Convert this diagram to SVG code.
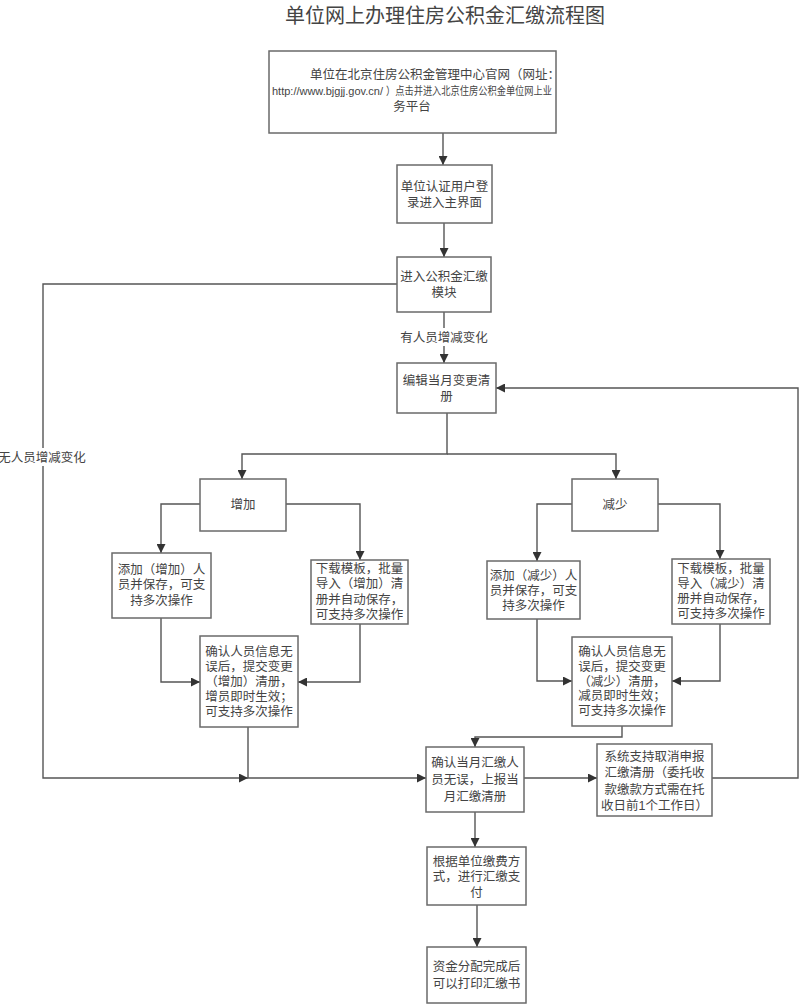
<svg xmlns="http://www.w3.org/2000/svg" width="800" height="1008" viewBox="0 0 800 1008">
<style>
.box{fill:#fff;stroke:#6a6a6a;stroke-width:1.5}
.t{font-family:"Liberation Sans","Noto Sans CJK SC",sans-serif;font-size:12.5px;fill:#444;text-anchor:middle}
.u{font-family:"Liberation Sans",sans-serif;font-size:11px;fill:#444;text-anchor:start}
.s{font-size:11px;text-anchor:start}
.c{fill:none;stroke:#555;stroke-width:1.4}
.title{font-family:"Liberation Sans","Noto Sans CJK SC",sans-serif;font-size:20px;fill:#444;text-anchor:middle}
</style>
<defs>
<marker id="ah" viewBox="0 0 10 10" refX="10" refY="5" markerWidth="9" markerHeight="9" markerUnits="userSpaceOnUse" orient="auto">
<path d="M0,0 L10,5 L0,10 z" fill="#333"/>
</marker>
</defs>
<rect width="800" height="1008" fill="#fff"/>
<text class="title" x="445" y="23">单位网上办理住房公积金汇缴流程图</text>

<g id="connectors">
<path class="c" d="M443,133 V165" marker-end="url(#ah)"/>
<path class="c" d="M444,223 V257" marker-end="url(#ah)"/>
<path class="c" d="M444,312 V363" marker-end="url(#ah)"/>
<path class="c" d="M447,413 V454 H242 V479" marker-end="url(#ah)"/>
<path class="c" d="M447,454 H616 V479" marker-end="url(#ah)"/>
<path class="c" d="M200,504 H161 V553" marker-end="url(#ah)"/>
<path class="c" d="M286,504 H360 V560" marker-end="url(#ah)"/>
<path class="c" d="M161,618 V682 H200" marker-end="url(#ah)"/>
<path class="c" d="M360,624 V682 H298" marker-end="url(#ah)"/>
<path class="c" d="M572,504 H537 V561" marker-end="url(#ah)"/>
<path class="c" d="M658,504 H720 V559" marker-end="url(#ah)"/>
<path class="c" d="M537,619 V681 H572" marker-end="url(#ah)"/>
<path class="c" d="M720,624 V681 H672" marker-end="url(#ah)"/>
<path class="c" d="M397,284 H43 V778 H248" marker-end="url(#ah)"/>
<path class="c" d="M248,727 V778 H426" marker-end="url(#ah)"/>
<path class="c" d="M622,726 V737 H475 V747" marker-end="url(#ah)"/>
<path class="c" d="M524,778 H597" marker-end="url(#ah)"/>
<path class="c" d="M712,778 H798 V388 H496" marker-end="url(#ah)"/>
<path class="c" d="M475,812 V847" marker-end="url(#ah)"/>
<path class="c" d="M477,905 V947" marker-end="url(#ah)"/>
<rect x="400" y="328" width="88" height="18" fill="#fff"/>
<text class="t" x="444" y="342">有人员增减变化</text>
<rect x="0" y="448" width="86" height="18" fill="#fff"/>
<text class="t" x="42" y="462">无人员增减变化</text>
</g>

<g id="n1">
<rect class="box" x="269" y="51" width="287" height="82"/>
<text class="t"><tspan x="435" y="79">单位在北京住房公积金管理中心官网（网址：</tspan><tspan class="u" x="272" y="95" textLength="111" lengthAdjust="spacingAndGlyphs">http://www.bjgjj.gov.cn/</tspan><tspan class="s" x="386" y="95" textLength="166" lengthAdjust="spacingAndGlyphs">）点击并进入北京住房公积金单位网上业</tspan><tspan x="412" y="111">务平台</tspan></text>
</g>
<g id="n2">
<rect class="box" x="397" y="165" width="95" height="58"/>
<text class="t"><tspan x="444.5" y="191">单位认证用户登</tspan><tspan x="444.5" y="207">录进入主界面</tspan></text>
</g>
<g id="n3">
<rect class="box" x="397" y="257" width="94" height="55"/>
<text class="t"><tspan x="444" y="281">进入公积金汇缴</tspan><tspan x="444" y="297">模块</tspan></text>
</g>
<g id="n4">
<rect class="box" x="397" y="363" width="99" height="50"/>
<text class="t"><tspan x="446.5" y="385">编辑当月变更清</tspan><tspan x="446.5" y="401">册</tspan></text>
</g>
<g id="n5">
<rect class="box" x="200" y="479" width="86" height="52"/>
<text class="t" x="243" y="509">增加</text>
</g>
<g id="n6">
<rect class="box" x="112" y="553" width="99" height="65"/>
<text class="t"><tspan x="161.5" y="574">添加（增加）人</tspan><tspan x="161.5" y="589">员并保存，可支</tspan><tspan x="161.5" y="605">持多次操作</tspan></text>
</g>
<g id="n7">
<rect class="box" x="311" y="560" width="97" height="64"/>
<text class="t"><tspan x="359.5" y="573">下载模板，批量</tspan><tspan x="359.5" y="588">导入（增加）清</tspan><tspan x="359.5" y="604">册并自动保存，</tspan><tspan x="359.5" y="619">可支持多次操作</tspan></text>
</g>
<g id="n8">
<rect class="box" x="200" y="636" width="98" height="91"/>
<text class="t"><tspan x="249" y="656">确认人员信息无</tspan><tspan x="249" y="671">误后，提交变更</tspan><tspan x="249" y="686">（增加）清册，</tspan><tspan x="249" y="701">增员即时生效；</tspan><tspan x="249" y="716">可支持多次操作</tspan></text>
</g>
<g id="n9">
<rect class="box" x="572" y="479" width="86" height="52"/>
<text class="t" x="615" y="509">减少</text>
</g>
<g id="n10">
<rect class="box" x="487" y="561" width="93" height="58"/>
<text class="t"><tspan x="533.5" y="580">添加（减少）人</tspan><tspan x="533.5" y="595">员并保存，可支</tspan><tspan x="533.5" y="610">持多次操作</tspan></text>
</g>
<g id="n11">
<rect class="box" x="672" y="559" width="98" height="65"/>
<text class="t"><tspan x="721" y="573">下载模板，批量</tspan><tspan x="721" y="588">导入（减少）清</tspan><tspan x="721" y="603">册并自动保存，</tspan><tspan x="721" y="618">可支持多次操作</tspan></text>
</g>
<g id="n12">
<rect class="box" x="572" y="637" width="100" height="89"/>
<text class="t"><tspan x="622" y="656">确认人员信息无</tspan><tspan x="622" y="671">误后，提交变更</tspan><tspan x="622" y="686">（减少）清册，</tspan><tspan x="622" y="700">减员即时生效；</tspan><tspan x="622" y="715">可支持多次操作</tspan></text>
</g>
<g id="n13">
<rect class="box" x="426" y="747" width="98" height="65"/>
<text class="t"><tspan x="475" y="767">确认当月汇缴人</tspan><tspan x="475" y="784">员无误，上报当</tspan><tspan x="475" y="801">月汇缴清册</tspan></text>
</g>
<g id="n14">
<rect class="box" x="597" y="744" width="115" height="72"/>
<text class="t"><tspan x="654.5" y="761">系统支持取消申报</tspan><tspan x="654.5" y="777">汇缴清册（委托收</tspan><tspan x="654.5" y="794">款缴款方式需在托</tspan><tspan x="654.5" y="810">收日前1个工作日）</tspan></text>
</g>
<g id="n15">
<rect class="box" x="427" y="847" width="99" height="58"/>
<text class="t"><tspan x="476.5" y="866">根据单位缴费方</tspan><tspan x="476.5" y="881">式，进行汇缴支</tspan><tspan x="476.5" y="897">付</tspan></text>
</g>
<g id="n16">
<rect class="box" x="427" y="947" width="99" height="56"/>
<text class="t"><tspan x="476.5" y="971">资金分配完成后</tspan><tspan x="476.5" y="988">可以打印汇缴书</tspan></text>
</g>
</svg>
